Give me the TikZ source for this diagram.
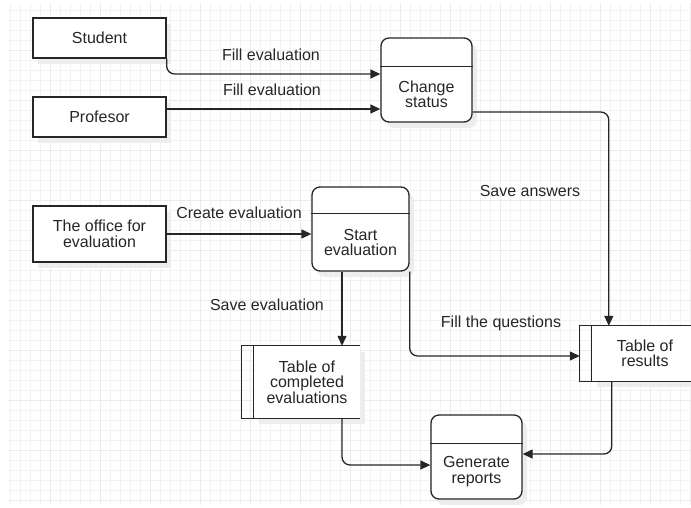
\documentclass[tikz,border=0pt]{standalone}
\usepackage{fontspec}
\setmainfont{Liberation Sans}
\usetikzlibrary{arrows.meta,shadows}
\begin{document}
\begin{tikzpicture}[x=1pt,y=-1pt,
        every node/.style={font=\fontsize{16}{15.5}\selectfont, text=black!85, align=center},
        shade/.style={drop shadow={shadow xshift=5pt, shadow yshift=-6pt, fill=black!7, opacity=1}},
        ext/.style={draw=black!85, line width=1.3pt, fill=white, shade, minimum width=133pt, minimum height=40pt},
        proc/.style={draw=black!85, line width=1.3pt, fill=white, shade, rounded corners=8pt, minimum width=91pt, minimum height=84pt},
        store/.style={fill=white, shade, minimum width=106pt},
        edge/.style={draw=black!85, line width=1.3pt},
        flow/.style={edge, -{Triangle[length=10pt,width=9pt]}},
        lbl/.style={inner sep=0pt}]
        \useasboundingbox (0,0) rectangle (691,507);
        \clip (0,0) rectangle (691,507);
        % paper grid
        \draw[black!5, step=10pt] (7,3) grid (691,505);
        \draw[black!8, step=50pt] (7,3) grid (691,505);
        % external entities
        \node[ext] (student) at (99.5,38) {Student};
        \node[ext] (prof) at (99.5,117) {Profesor};
        \node[ext, minimum height=56pt] (office) at (99.5,234) {The office for\\evaluation};
        % processes
        \node[proc] (chg) at (426.5,80) {};
        \draw[edge] ([yshift=-29pt]chg.north west) -- ([yshift=-29pt]chg.north east);
        \node (chgtxt) at ([yshift=-14.5pt]chg.center) {Change\\status};
        \node[proc, minimum width=97pt] (start) at (360.5,229) {};
        \draw[edge] ([yshift=-27pt]start.north west) -- ([yshift=-27pt]start.north east);
        \node (starttxt) at ([yshift=-13.5pt]start.center) {Start\\evaluation};
        \node[proc] (gen) at (476.5,457) {};
        \draw[edge] ([yshift=-29pt]gen.north west) -- ([yshift=-29pt]gen.north east);
        \node (gentxt) at ([yshift=-14.5pt]gen.center) {Generate\\reports};
        % data stores
        \node[store, minimum height=72pt] (tcomp) at (307,382) {Table of\\completed\\evaluations};
        \draw[edge] (tcomp.north east) -- ([xshift=-12pt]tcomp.north west) -- ([xshift=-12pt]tcomp.south west) -- (tcomp.south east);
        \draw[edge] (tcomp.north west) -- (tcomp.south west);
        \node[store, minimum height=55pt] (tres) at (645,353.5) {Table of\\results};
        \draw[edge] (tres.north east) -- ([xshift=-12pt]tres.north west) -- ([xshift=-12pt]tres.south west) -- (tres.south east);
        \draw[edge] (tres.north west) -- (tres.south west);
        % flows
        \coordinate (sv) at ([xshift=35pt]tcomp.north);
        \coordinate (rs) at ([xshift=20pt]tres.south west);
        \draw[flow, rounded corners=8pt] (student.south east) |- ([yshift=6pt]chg.west);
        \draw[flow] ([yshift=8pt]prof.east) -- ([yshift=-29pt]chg.west);
        \draw[flow, rounded corners=8pt] ([yshift=-32pt]chg.east) -| ([xshift=17pt]tres.north west);
        \draw[flow] (office.east) -- (office.east -| start.west);
        \draw[flow] (start.south -| sv) -- (sv);
        \draw[flow, rounded corners=8pt] (start.south east) |- ([xshift=-12pt, yshift=-2.5pt]tres.west);
        \draw[flow, rounded corners=8pt] (tcomp.south -| sv) |- ([yshift=-8pt]gen.west);
        \draw[flow, rounded corners=8pt] (rs) |- ([yshift=3pt]gen.east);
        % flow labels
        \node[lbl] (lfill1) at (271,55) {Fill evaluation};
        \node[lbl] (lfill2) at (272,90) {Fill evaluation};
        \node[lbl] (lsave) at (530,191) {Save answers};
        \node[lbl] (lcreate) at (239,213) {Create evaluation};
        \node[lbl] (lsaveev) at (267,305) {Save evaluation};
        \node[lbl] (lquest) at (501,323) {Fill the questions};
    \end{tikzpicture}
\end{document}
